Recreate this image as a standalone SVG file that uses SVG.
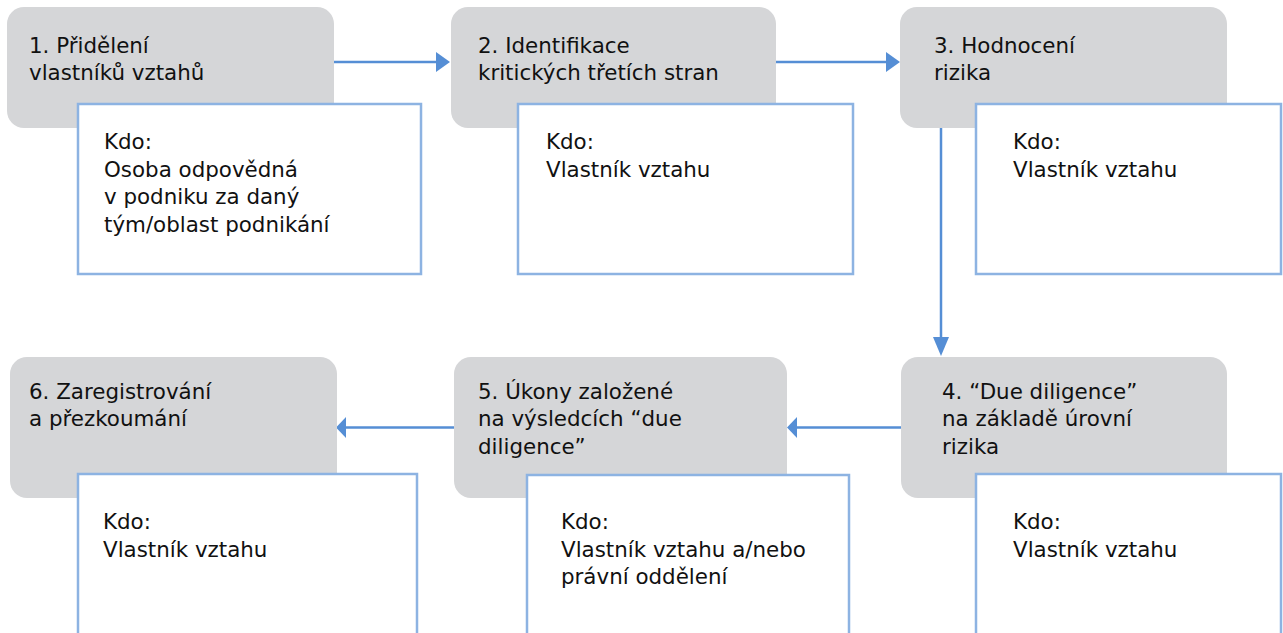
<svg xmlns="http://www.w3.org/2000/svg" width="1283" height="633" viewBox="0 0 1283 633">
<style>
.step{fill:#D5D6D8;}
.who{fill:#FFFFFF;stroke:#8DB3E2;stroke-width:2.5;}
.t{font-family:"DejaVu Sans",Verdana,sans-serif;font-size:21.4px;fill:#111111;}
.ln{stroke:#558ED5;stroke-width:2.5;fill:none;}
.ah{fill:#558ED5;}
</style>
<rect width="1283" height="633" fill="#FFFFFF"/>
<g id="connectors">
<line class="ln" x1="334" y1="62" x2="438" y2="62"/>
<polygon class="ah" points="436,52 450,62 436,72"/>
<line class="ln" x1="776" y1="62" x2="888" y2="62"/>
<polygon class="ah" points="886,52 900,62 886,72"/>
<line class="ln" x1="941" y1="128" x2="941" y2="340"/>
<polygon class="ah" points="933,337 949,337 941,356"/>
<line class="ln" x1="901" y1="427.5" x2="794" y2="427.5"/>
<polygon class="ah" points="797,417 787,427.5 797,438"/>
<line class="ln" x1="454" y1="427.5" x2="344" y2="427.5"/>
<polygon class="ah" points="346,417 336,427.5 346,438"/>
</g>
<g id="node1">
<rect class="step" x="7" y="7" width="327" height="121" rx="17"/>
<rect class="who" x="78" y="104" width="343" height="170"/>
<text class="t" x="29" y="52.5">1. Přidělení</text>
<text class="t" x="29" y="80">vlastníků vztahů</text>
<text class="t" x="104" y="149">Kdo:</text>
<text class="t" x="104" y="176.5">Osoba odpovědná</text>
<text class="t" x="104" y="204">v podniku za daný</text>
<text class="t" x="104" y="231.5">tým/oblast podnikání</text>
</g>
<g id="node2">
<rect class="step" x="451" y="7" width="325" height="121" rx="17"/>
<rect class="who" x="518" y="104" width="335" height="170"/>
<text class="t" x="478" y="52.5">2. Identifikace</text>
<text class="t" x="478" y="80">kritických třetích stran</text>
<text class="t" x="546" y="149">Kdo:</text>
<text class="t" x="546" y="176.5">Vlastník vztahu</text>
</g>
<g id="node3">
<rect class="step" x="900" y="7" width="327" height="121" rx="17"/>
<rect class="who" x="976" y="104" width="305" height="170"/>
<text class="t" x="934" y="52.5">3. Hodnocení</text>
<text class="t" x="934" y="80">rizika</text>
<text class="t" x="1013" y="149">Kdo:</text>
<text class="t" x="1013" y="176.5">Vlastník vztahu</text>
</g>
<g id="node4">
<rect class="step" x="901" y="357" width="326" height="141" rx="17"/>
<rect class="who" x="976" y="474" width="305" height="180"/>
<text class="t" x="942" y="398.5">4. “Due diligence”</text>
<text class="t" x="942" y="426">na základě úrovní</text>
<text class="t" x="942" y="453.5">rizika</text>
<text class="t" x="1013" y="529">Kdo:</text>
<text class="t" x="1013" y="556.5">Vlastník vztahu</text>
</g>
<g id="node5">
<rect class="step" x="454" y="357" width="333" height="141" rx="17"/>
<rect class="who" x="527" y="475" width="322" height="180"/>
<text class="t" x="478" y="398.5">5. Úkony založené</text>
<text class="t" x="478" y="426">na výsledcích “due</text>
<text class="t" x="478" y="453.5">diligence”</text>
<text class="t" x="561" y="529">Kdo:</text>
<text class="t" x="561" y="556.5">Vlastník vztahu a/nebo</text>
<text class="t" x="561" y="584">právní oddělení</text>
</g>
<g id="node6">
<rect class="step" x="10" y="357" width="327" height="141" rx="17"/>
<rect class="who" x="78" y="474" width="339" height="180"/>
<text class="t" x="29" y="398.5">6. Zaregistrování</text>
<text class="t" x="29" y="426">a přezkoumání</text>
<text class="t" x="103" y="529">Kdo:</text>
<text class="t" x="103" y="556.5">Vlastník vztahu</text>
</g>
</svg>
